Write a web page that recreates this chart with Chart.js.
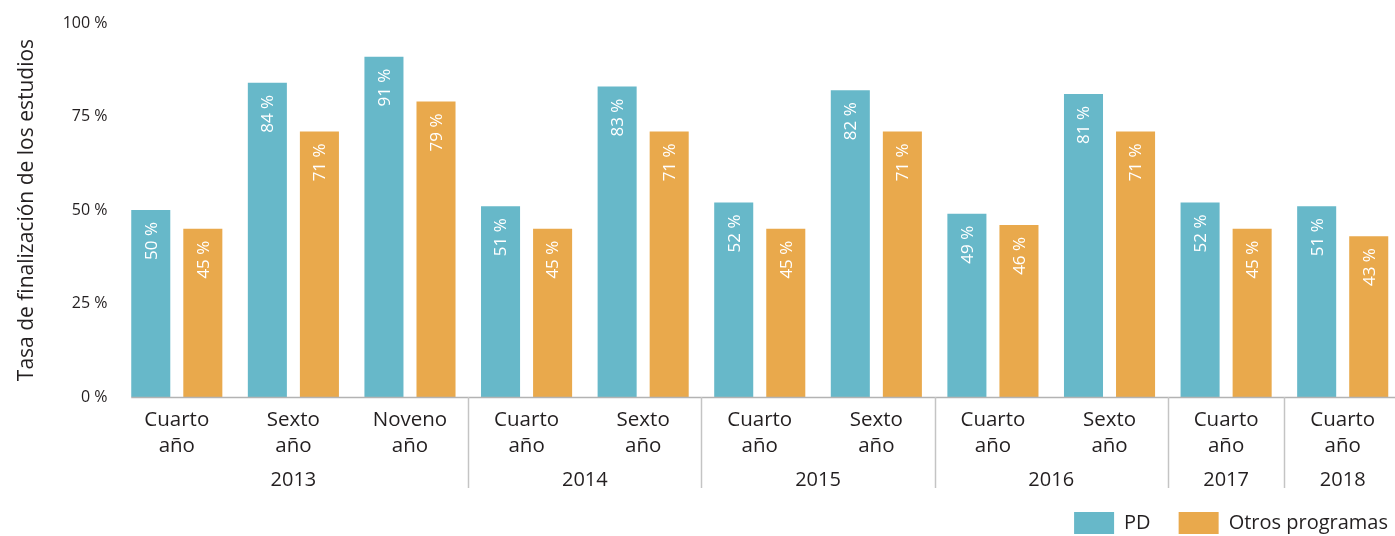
<!DOCTYPE html>
<html>
<head>
<meta charset="utf-8">
<script src="https://cdn.jsdelivr.net/npm/chart.js@4/dist/chart.umd.min.js"></script>
<style>
html,body{margin:0;padding:0;overflow:hidden;background:#fff;width:1395px;height:536px;}
#wrap{position:absolute;left:0;top:0;width:1401px;height:536px;}
</style>
</head>
<body>
<div id="wrap"><canvas id="c"></canvas></div>
<script>
const categories = [["Cuarto","año"],["Sexto","año"],["Noveno","año"],["Cuarto","año"],["Sexto","año"],["Cuarto","año"],["Sexto","año"],["Cuarto","año"],["Sexto","año"],["Cuarto","año"],["Cuarto","año"]];
const years = ["2013","2014","2015","2016","2017","2018"];
const yearSpans = [3,2,2,2,1,1];
const pdValues = [50,84,91,51,83,52,82,49,81,52,51];
const otrosValues = [45,71,79,45,71,45,71,46,71,45,43];
const seriesNames = ["PD","Otros programas"];
const yTicks = [0,25,50,75,100];

const FONT = "'Open Sans', sans-serif";
const TXT = '#231f20';

const extras = {
  id:'extras',
  afterLayout(chart){
    const lg = chart.legend;
    if (lg) { lg.left += 15; lg.right += 15; lg.top += 8; lg.bottom += 8; }
  },
  afterDatasetsDraw(chart){
    const ctx = chart.ctx;
    chart.data.datasets.forEach((ds,di)=>{
      const meta = chart.getDatasetMeta(di);
      meta.data.forEach((bar,i)=>{
        ctx.save();
        ctx.translate(bar.x, bar.y + 12);
        ctx.rotate(-Math.PI/2);
        ctx.fillStyle = '#ffffff';
        ctx.font = "17px " + FONT;
        ctx.textAlign = 'right';
        ctx.textBaseline = 'middle';
        ctx.fillText(ds.data[i] + ' %', 0, 1);
        ctx.restore();
      });
    });
  },
  afterDraw(chart){
    const ctx = chart.ctx;
    const x = chart.scales.x;
    const area = chart.chartArea;
    const catW = x.getPixelForValue(1) - x.getPixelForValue(0);
    const firstBar = chart.getDatasetMeta(0).data[0];
    ctx.save();
    ctx.strokeStyle = '#b3b3b3';
    ctx.lineWidth = 1.5;
    ctx.beginPath();
    ctx.moveTo(firstBar.x - firstBar.width/2, area.bottom + 0.5);
    ctx.lineTo(chart.width, area.bottom + 0.5);
    ctx.stroke();
    let idx = 0;
    ctx.font = "20px " + FONT;
    ctx.fillStyle = TXT;
    ctx.textAlign = 'center';
    ctx.textBaseline = 'middle';
    years.forEach((yr,g)=>{
      const start = idx, end = idx + yearSpans[g] - 1;
      const left = x.getPixelForValue(start) - catW/2;
      const right = x.getPixelForValue(end) + catW/2;
      ctx.fillText(yr, (left+right)/2, 480);
      if (g < years.length - 1) {
        ctx.strokeStyle = '#c4c4c4';
        ctx.lineWidth = 1.5;
        ctx.beginPath();
        ctx.moveTo(Math.round(right)+0.5, area.bottom);
        ctx.lineTo(Math.round(right)+0.5, 488);
        ctx.stroke();
      }
      idx = end + 1;
    });
    ctx.restore();
  }
};

new Chart(document.getElementById('c'), {
  type:'bar',
  data:{
    labels: categories,
    datasets:[
      {label:seriesNames[0], data:pdValues, backgroundColor:'#67b8c9', categoryPercentage:0.893, barPercentage:0.75},
      {label:seriesNames[1], data:otrosValues, backgroundColor:'#e9a94c', categoryPercentage:0.893, barPercentage:0.75}
    ]
  },
  options:{
    responsive:true,
    maintainAspectRatio:false,
    animation:false,
    layout:{padding:{top:23,left:0,right:0,bottom:0}},
    plugins:{
      tooltip:{enabled:false},
      legend:{
        position:'bottom',
        align:'end',
        labels:{boxWidth:40,boxHeight:22,padding:28,color:TXT,font:{size:20,family:FONT}}
      }
    },
    scales:{
      x:{
        grid:{display:false,drawTicks:false},
        border:{display:false},
        ticks:{color:TXT,font:{size:20.5,family:FONT,lineHeight:1.27},padding:10,maxRotation:0,autoSkip:false},
        afterFit(s){ s.height = 79; }
      },
      y:{
        min:0,max:100,
        afterBuildTicks(s){ s.ticks = yTicks.map(v=>({value:v})); },
        grid:{display:false,drawTicks:false},
        border:{display:false},
        ticks:{color:TXT,font:{size:16,family:FONT},padding:11,callback:v=>v+' %'},
        title:{display:true,text:'Tasa de finalización de los estudios',color:TXT,font:{size:21,family:FONT},padding:{top:14,bottom:0}},
        afterFit(s){ s.width = 118.5; }
      }
    }
  },
  plugins:[extras]
});
</script>
</body>
</html>
